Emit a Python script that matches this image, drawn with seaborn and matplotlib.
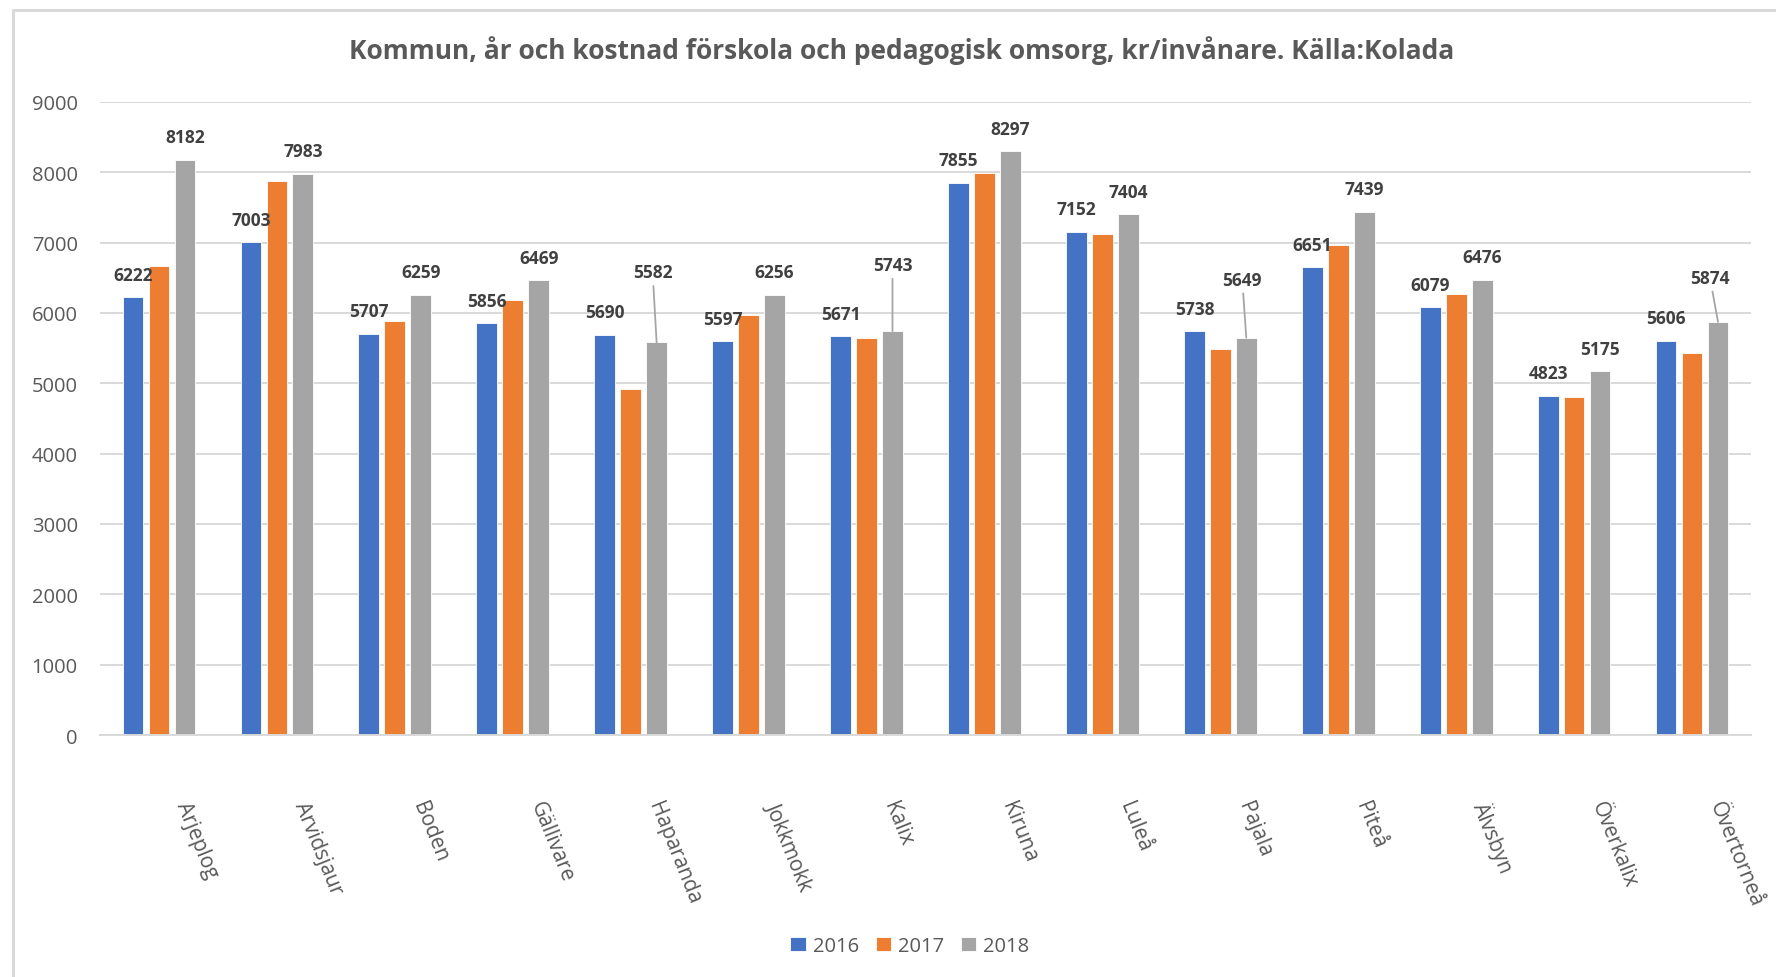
import numpy as np
import pandas as pd
import matplotlib
matplotlib.use("Agg")
import matplotlib.pyplot as plt
import matplotlib.transforms as mtransforms
from matplotlib.lines import Line2D
import seaborn as sns

# ---- data ----
kommuner = ["Arjeplog", "Arvidsjaur", "Boden", "Gällivare", "Haparanda", "Jokkmokk", "Kalix",
            "Kiruna", "Luleå", "Pajala", "Piteå", "Älvsbyn", "Överkalix", "Övertorneå"]
years = ["2016", "2017", "2018"]
v2016 = [6222, 7003, 5707, 5856, 5690, 5597, 5671, 7855, 7152, 5738, 6651, 6079, 4823, 5606]
v2017 = [6675, 7878, 5890, 6180, 4925, 5976, 5650, 7995, 7125, 5485, 6962, 6265, 4800, 5431]
v2018 = [8182, 7983, 6259, 6469, 5582, 6256, 5743, 8297, 7404, 5649, 7439, 6476, 5175, 5874]
yticks = [0, 1000, 2000, 3000, 4000, 5000, 6000, 7000, 8000, 9000]
title = "Kommun, år och kostnad förskola och pedagogisk omsorg, kr/invånare. Källa:Kolada"

colors = ["#4472C4", "#ED7D31", "#A5A5A5"]

df = pd.DataFrame({
    "Kommun": kommuner * 3,
    "År": [y for y in years for _ in kommuner],
    "Kostnad": v2016 + v2017 + v2018,
})

sns.set_theme(style="white")
plt.rcParams["font.family"] = ["Open Sans", "DejaVu Sans"]

W, H, DPI = 1776, 978, 100
fig = plt.figure(figsize=(W / DPI, H / DPI), dpi=DPI)
ax = fig.add_axes([100 / W, 1 - 736 / H, (1751 - 100) / W, (736 - 103) / H])

sns.barplot(data=df, x="Kommun", y="Kostnad", hue="År", palette=colors, saturation=1,
            width=0.66, gap=0.2, errorbar=None, ax=ax,
            edgecolor="white", linewidth=0.6, legend=True)

ax.set_xlim(-0.5, len(kommuner) - 0.5)
ax.set_ylim(0, 9000)
ax.set_yticks(yticks)
ax.set_yticklabels([str(t) for t in yticks], fontsize=14.5, color="#595959")
ax.tick_params(axis="y", length=0, pad=16)
ax.tick_params(axis="x", length=0)
ax.set_xticklabels([])
ax.set_xlabel("")
ax.set_ylabel("")
ax.grid(axis="y", color="#d9d9d9", linewidth=1.4)
ax.set_axisbelow(True)
for s in ["top", "right", "left"]:
    ax.spines[s].set_visible(False)
ax.spines["bottom"].set_color("#d9d9d9")
ax.spines["bottom"].set_linewidth(1.4)

# category labels (rotated)
blend = mtransforms.blended_transform_factory(ax.transData, ax.transAxes)
off = mtransforms.ScaledTranslation(23 / DPI, -67 / DPI, fig.dpi_scale_trans)
for i, k in enumerate(kommuner):
    ax.text(i, 0, k, transform=blend + off, rotation=-68, rotation_mode="anchor",
            ha="left", va="center", fontsize=15, color="#595959")

# data labels for 2016 and 2018
special = {("Haparanda", 2): (-4, 70), ("Kalix", 2): (0, 66),
           ("Pajala", 2): (-4, 58), ("Övertorneå", 2): (-8, 44)}
for ci in [0, 2]:
    cont = ax.containers[ci]
    vals = [v2016, v2017, v2018][ci]
    for j, bar in enumerate(cont.patches if hasattr(cont, "patches") else cont):
        xc = bar.get_x() + bar.get_width() / 2
        h = bar.get_height()
        key = (kommuner[j], ci)
        if key in special:
            dx, dy = special[key]
            ax.annotate(str(vals[j]), xy=(xc, h), xytext=(dx, dy), textcoords="offset pixels",
                        ha="center", va="center", fontsize=12.5, fontweight="bold", color="#404040",
                        arrowprops=dict(arrowstyle="-", color="#a6a6a6", lw=1.3,
                                        shrinkA=1, shrinkB=0))
        else:
            ax.annotate(str(vals[j]), xy=(xc, h), xytext=(0, 22.5), textcoords="offset pixels",
                        ha="center", va="center", fontsize=12.5, fontweight="bold", color="#404040")

# legend
leg = ax.legend(loc="center", bbox_to_anchor=(910 / W, 1 - 947 / H), bbox_transform=fig.transFigure,
                ncol=3, frameon=False, fontsize=14.5, handlelength=0.75, handleheight=0.75,
                handletextpad=0.35, columnspacing=0.85, title=None)
for t in leg.get_texts():
    t.set_color("#595959")

# title
fig.text(902 / W, 1 - 51 / H, title, ha="center", va="center", fontsize=19,
         fontweight="bold", color="#595959")

# outer chart border (partial)
fig.add_artist(Line2D([13 / W, 13 / W, 1], [0, 1 - 11 / H, 1 - 11 / H],
                      transform=fig.transFigure, color="#d9d9d9", linewidth=2.2))

fig.savefig("out.png", dpi=DPI, facecolor="white")
